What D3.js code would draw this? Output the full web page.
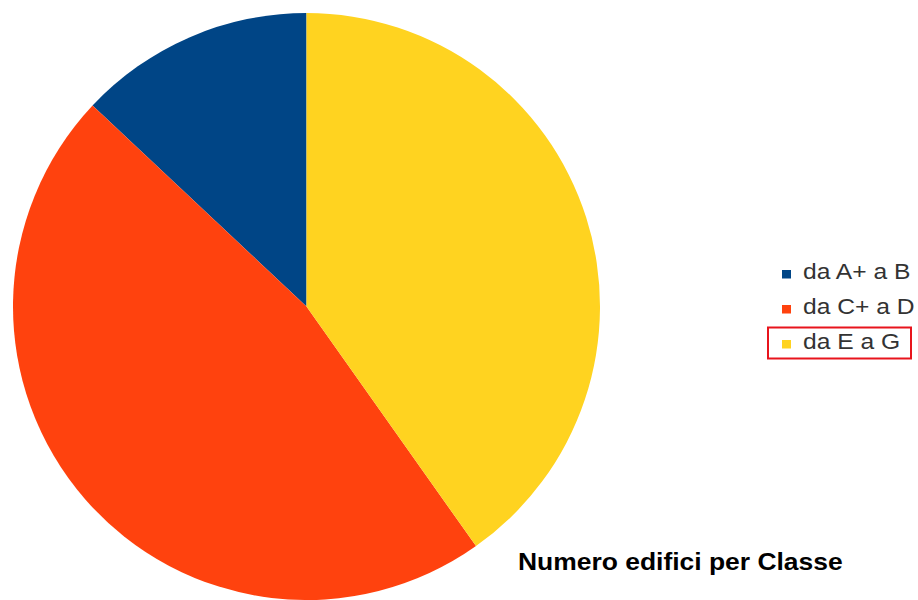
<!DOCTYPE html>
<html>
<head>
<meta charset="utf-8">
<script src="https://cdn.jsdelivr.net/npm/d3@7"></script>
<style>
  html, body { margin: 0; padding: 0; background: #fff; }
  svg { display: block; }
</style>
</head>
<body>
<svg id="chart" width="918" height="600"></svg>
<script>
// Energy class groups and share of buildings (%)
const categories = ["da A+ a B", "da C+ a D", "da E a G"];
const values = [13.0, 46.8, 40.2];
const colors = ["#004586", "#ff420e", "#ffd320"];
const title = "Numero edifici per Classe";
const highlighted = "da E a G";

const svg = d3.select("#chart");
const cx = 306.5, cy = 306.5, radius = 293.5;
const FONT = "Liberation Sans, Arial, sans-serif";
const STRETCH = 1.12; // text is drawn slightly wide

const color = d3.scaleOrdinal().domain(categories).range(colors);

// Slices run counter-clockwise from 12 o'clock, in legend order
const pie = d3.pie()
  .sort(null)
  .startAngle(0)
  .endAngle(-2 * Math.PI)
  .value(d => d.value);

const arc = d3.arc().innerRadius(0).outerRadius(radius);

const data = categories.map((c, i) => ({ name: c, value: values[i] }));

svg.append("g")
  .attr("transform", `translate(${cx},${cy})`)
  .selectAll("path")
  .data(pie(data))
  .join("path")
  .attr("d", arc)
  .attr("fill", d => color(d.data.name));

// Legend
const rowY = d3.scalePoint().domain(categories).range([278.5, 348.5]);

const rows = svg.append("g")
  .selectAll("g.row")
  .data(categories)
  .join("g")
  .attr("class", "row")
  .attr("transform", d => `translate(782,${rowY(d)})`);

rows.append("rect")
  .attr("x", 0)
  .attr("y", -8.5)
  .attr("width", 9)
  .attr("height", 8.5)
  .attr("fill", d => color(d));

rows.append("text")
  .attr("transform", `translate(21,0) scale(${STRETCH},1)`)
  .attr("font-family", FONT)
  .attr("font-size", 22)
  .attr("fill", "#333")
  .text(d => d);

// Highlight frame round the selected legend entry
svg.append("rect")
  .attr("x", 768)
  .attr("y", rowY(highlighted) - 21)
  .attr("width", 143)
  .attr("height", 31)
  .attr("fill", "none")
  .attr("stroke", "#e8141c")
  .attr("stroke-width", 2);

// Title
svg.append("text")
  .attr("transform", `translate(518,570) scale(1.15,1)`)
  .attr("font-family", FONT)
  .attr("font-size", 23)
  .attr("font-weight", "bold")
  .attr("fill", "#000")
  .text(title);
</script>
</body>
</html>
